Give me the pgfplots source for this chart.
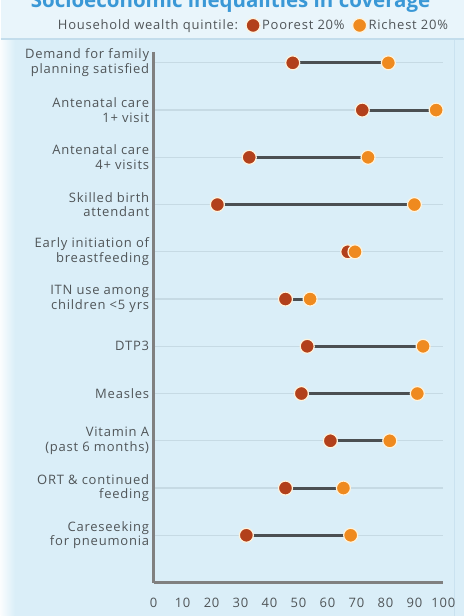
\documentclass[border=0pt]{standalone}
\usepackage{fontspec}
\setmainfont{Open Sans}[LetterSpace=6]
\newfontfamily\titlefont{Open Sans}
\usepackage{pgfplots}
\usepackage{pgfplotstable}
\pgfplotsset{compat=1.18}

\definecolor{bg}{HTML}{DAEEF8}
\definecolor{band}{HTML}{E9F5FB}
\definecolor{bandline}{HTML}{C3DDEC}
\definecolor{poorc}{HTML}{B2401B}
\definecolor{richc}{HTML}{EF8A1F}
\definecolor{segc}{HTML}{4B4F52}
\definecolor{txt}{HTML}{505558}
\definecolor{titlec}{HTML}{3A98D6}
\definecolor{gridc}{HTML}{C6DAE4}
\definecolor{glow}{HTML}{FFF3DC}

% row, poorest 20%, richest 20%
\pgfplotstableread{
row poor rich
1   48   81
2   72   97.5
3   33   74
4   22   90
5   67   69.5
6   45.5 54
7   53   93
8   51   91
9   61   81.5
10  45.5 65.5
11  32   68
}\coverage

\begin{document}
\begin{tikzpicture}[x=1pt,y=1pt]
\fill[bg] (0,0) rectangle (464,616);
\shade[left color=white!85!bg, right color=bg] (0,0) rectangle (14,577);
\draw[bandline!70!bg, line width=1pt] (454,0) -- (454,577);
\fill[band] (0,577) rectangle (464,616);
\draw[bandline, line width=1.5pt] (0,577) -- (464,577);
\useasboundingbox (0,0) rectangle (464,616);
\node[anchor=base, text=titlec, font=\titlefont\fontsize{20.5}{24}\selectfont\bfseries]
  at (230,608) {Socioeconomic inequalities in coverage};
\begin{axis}[
  at={(153pt,33pt)}, anchor=south west,
  scale only axis,
  width=290pt, height=531pt,
  xmin=0, xmax=100,
  ymin=0.77, ymax=12,
  y dir=reverse,
  axis x line=bottom, axis y line=left,
  axis line style={-, draw=black!50, line width=2.5pt},
  xtick={0,10,...,100},
  ytick={1,...,11},
  yticklabels={
    Demand for family\\planning satisfied,
    Antenatal care\\1+ visit,
    Antenatal care\\4+ visits,
    Skilled birth\\attendant,
    Early initiation of\\breastfeeding,
    ITN use among\\children <5 yrs,
    DTP3,
    Measles,
    Vitamin A\\(past 6 months),
    ORT \& continued\\feeding,
    Careseeking\\for pneumonia},
  major tick length=0pt,
  ymajorgrids,
  grid style={gridc, line width=1.2pt},
  yticklabel style={align=right, text=txt, font=\fontsize{13}{14.5}\selectfont, xshift=-1pt},
  xticklabel style={text=txt, font=\fontsize{13}{14}\selectfont, yshift=-12pt},
  xlabel={Percent},
  xlabel style={text=txt, font=\fontsize{13}{14}\selectfont, yshift=-4pt},
  /pgf/number format/assume math mode=true,
  clip=false,
  legend columns=-1,
  legend style={draw=none, fill=none, at={(0.343,1.05)}, anchor=center,
    font=\fontsize{13}{14}\selectfont, text=txt,
    /tikz/every even column/.append style={column sep=6pt}},
]
\addlegendimage{empty legend}
\addlegendentry{Household wealth quintile:}
\addplot[draw=none, mark=none, forget plot,
  error bars/.cd, x dir=plus, x explicit, error mark=none,
  error bar style={segc, line width=3pt}]
  table[x=poor, y=row, x error expr=\thisrow{rich}-\thisrow{poor}] {\coverage};
\addplot[only marks, mark=*, mark size=7pt,
  mark options={fill=poorc, draw=glow, line width=1.2pt}]
  table[x=poor, y=row] {\coverage};
\addlegendentry{Poorest 20\%}
\addplot[only marks, mark=*, mark size=7pt,
  mark options={fill=richc, draw=glow, line width=1.2pt}]
  table[x=rich, y=row] {\coverage};
\addlegendentry{Richest 20\%}
\end{axis}
\end{tikzpicture}
\end{document}
